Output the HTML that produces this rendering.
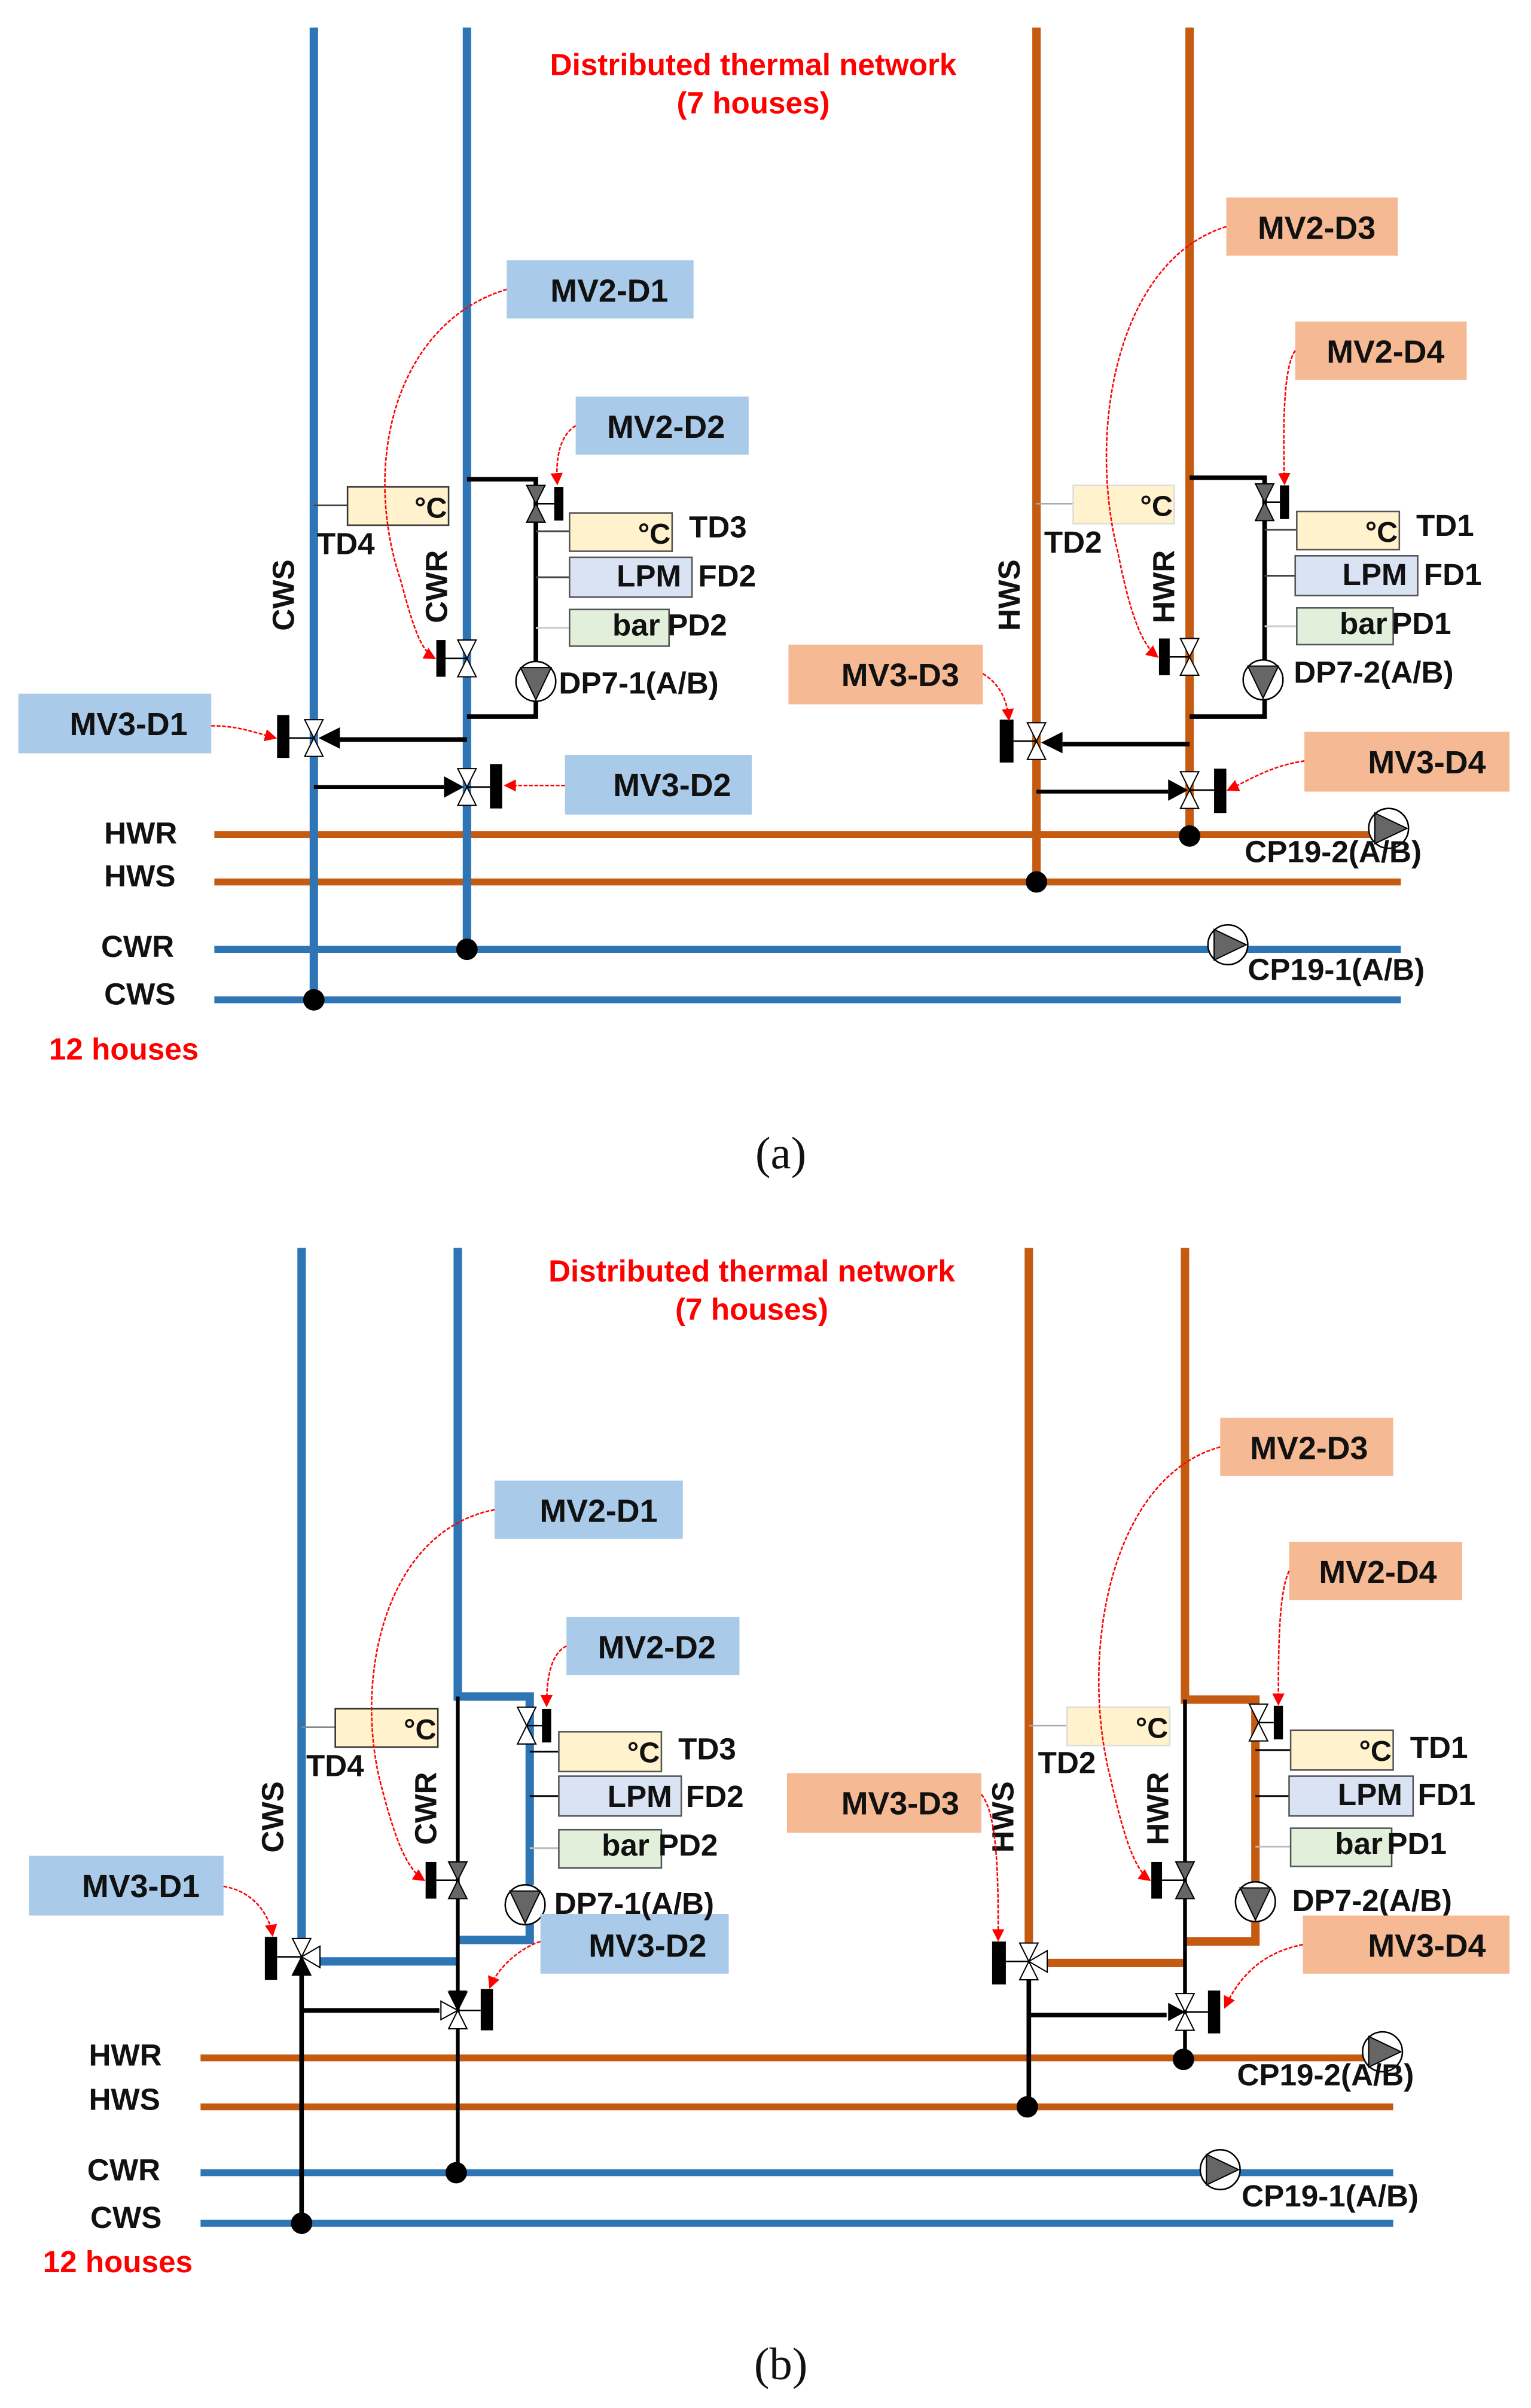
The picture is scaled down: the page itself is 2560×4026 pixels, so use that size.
<!DOCTYPE html>
<html><head><meta charset="utf-8"><style>
html,body{margin:0;padding:0;background:#fff}
svg{display:block}
text{font-family:"Liberation Sans",sans-serif;font-weight:bold;fill:#111}
</style></head><body>
<svg width="2560" height="4026" viewBox="0 0 1000 1572.66" preserveAspectRatio="none" xmlns="http://www.w3.org/2000/svg">
<defs>
<g id="vv"><polygon points="-6,-12 6,-12 0,0" fill="#fff" stroke="#000" stroke-width="0.8"/><polygon points="-6,12 6,12 0,0" fill="#fff" stroke="#000" stroke-width="0.8"/></g>
<g id="vvg"><polygon points="-6,-12 6,-12 0,0" fill="#666" stroke="#000" stroke-width="0.8"/><polygon points="-6,12 6,12 0,0" fill="#666" stroke="#000" stroke-width="0.8"/></g>
<g id="pump"><circle r="13" fill="#fff" stroke="#000" stroke-width="1"/><polygon points="-10,-9 10,-9 0,12" fill="#666" stroke="#000" stroke-width="0.8"/></g>
<g id="hpump"><circle r="13" fill="#fff" stroke="#000" stroke-width="1"/><polygon points="-9,-10 -9,10 12,0" fill="#666" stroke="#000" stroke-width="0.8"/></g>
<marker id="ar" markerWidth="8" markerHeight="8" refX="7" refY="4" orient="auto" markerUnits="userSpaceOnUse"><polygon points="0,0 8,4 0,8" fill="#f00"/></marker>
</defs>

<!-- ===================== (a) ===================== -->
<text x="492" y="49" text-anchor="middle" font-size="20" style="fill:#f00">Distributed thermal network</text>
<text x="492" y="74" text-anchor="middle" font-size="20" style="fill:#f00">(7 houses)</text>

<g stroke-width="4.5" fill="none">
<line x1="140" y1="545" x2="915" y2="545" stroke="#c55a11"/>
<line x1="140" y1="576" x2="915" y2="576" stroke="#c55a11"/>
<line x1="140" y1="620" x2="915" y2="620" stroke="#2e75b6"/>
<line x1="140" y1="653" x2="915" y2="653" stroke="#2e75b6"/>
<line x1="205" y1="18" x2="205" y2="653" stroke="#2e75b6" stroke-width="5.5"/>
<line x1="305" y1="18" x2="305" y2="620" stroke="#2e75b6" stroke-width="5.5"/>
<line x1="677" y1="18" x2="677" y2="576" stroke="#c55a11" stroke-width="5.5"/>
<line x1="777" y1="18" x2="777" y2="546" stroke="#c55a11" stroke-width="5.5"/>
</g>
<g fill="#000"><circle cx="205" cy="653" r="7"/><circle cx="305" cy="620" r="7"/><circle cx="677" cy="576" r="7"/><circle cx="777" cy="546" r="7"/></g>
<g font-size="20"><text x="68" y="551">HWR</text><text x="68" y="579">HWS</text><text x="66" y="625">CWR</text><text x="68" y="656">CWS</text></g>
<text x="32" y="692" font-size="20" style="fill:#f00">12 houses</text>

<!-- left module (a) -->
<polyline points="305,313 350,313 350,468 305,468" fill="none" stroke="#000" stroke-width="3"/>
<line x1="205" y1="330" x2="227" y2="330" stroke="#444" stroke-width="1"/>
<rect x="227" y="318" width="66" height="25" fill="#fff2cc" stroke="#333" stroke-width="1"/><text x="292" y="338" font-size="19" text-anchor="end">°C</text>
<text x="207" y="362" font-size="20">TD4</text>
<g stroke-width="1.2"><line x1="350" y1="347" x2="372" y2="347" stroke="#444"/><line x1="350" y1="377" x2="372" y2="377" stroke="#444"/><line x1="350" y1="410" x2="372" y2="410" stroke="#ccc"/></g>
<rect x="372" y="335" width="67" height="25" fill="#fff2cc" stroke="#555" stroke-width="1"/><text x="438" y="355" font-size="19" text-anchor="end">°C</text><text x="450" y="351" font-size="20">TD3</text>
<rect x="372" y="364" width="80" height="26" fill="#dae3f3" stroke="#555" stroke-width="1"/><text x="445" y="383" font-size="20" text-anchor="end">LPM</text><text x="456" y="383" font-size="20">FD2</text>
<rect x="372" y="398" width="65" height="24" fill="#e2efda" stroke="#555" stroke-width="1"/><text x="400" y="415" font-size="20">bar</text><text x="436" y="415" font-size="20">PD2</text>
<use href="#pump" x="350" y="445"/><text x="365" y="453" font-size="20">DP7-1(A/B)</text>
<use href="#vvg" x="350" y="329"/><line x1="350" y1="329" x2="362" y2="329" stroke="#000"/><rect x="362" y="318" width="6" height="22" fill="#000"/>
<text transform="translate(192,412) rotate(-90)" font-size="20">CWS</text>
<text transform="translate(292,407) rotate(-90)" font-size="20">CWR</text>
<use href="#vv" x="305" y="430"/><line x1="291" y1="430" x2="305" y2="430" stroke="#000"/><rect x="285" y="418" width="6" height="24" fill="#000"/>
<line x1="305" y1="483" x2="222" y2="483" stroke="#000" stroke-width="3"/><polygon points="208,482 222,475 222,489" fill="#000"/>
<use href="#vv" x="205" y="482"/><line x1="188" y1="482" x2="205" y2="482" stroke="#000"/><rect x="181" y="467" width="8" height="28" fill="#000"/>
<line x1="205" y1="514" x2="290" y2="514" stroke="#000" stroke-width="2.5"/><polygon points="303,514 290,507 290,521" fill="#000"/>
<use href="#vv" x="305" y="514"/><line x1="305" y1="514" x2="320" y2="514" stroke="#000"/><rect x="320" y="499" width="8" height="29" fill="#000"/>
<g fill="#a9cbe9"><rect x="331" y="170" width="122" height="38"/><rect x="376" y="259" width="113" height="38"/><rect x="12" y="453" width="126" height="39"/><rect x="369" y="493" width="122" height="39"/></g>
<g font-size="21" text-anchor="middle"><text x="398" y="197">MV2-D1</text><text x="435" y="286">MV2-D2</text><text x="84" y="480">MV3-D1</text><text x="439" y="520">MV3-D2</text></g>
<g fill="none" stroke="#f00" stroke-width="1" stroke-dasharray="2.5,1" marker-end="url(#ar)">
<path d="M331,189 C260,210 235,300 262,380 C270,410 275,425 284,430"/>
<path d="M376,278 C365,285 363,300 364,316"/>
<path d="M138,474 C155,474 165,478 180,482"/>
<path d="M369,513 L330,513"/>
</g>

<!-- right module (a) -->
<polyline points="777,312 826,312 826,468 777,468" fill="none" stroke="#000" stroke-width="3"/>
<line x1="677" y1="329" x2="701" y2="329" stroke="#aaa" stroke-width="1"/>
<rect x="701" y="317" width="66" height="25" fill="#fff2cc" stroke="#ddd" stroke-width="1"/><text x="766" y="337" font-size="19" text-anchor="end">°C</text>
<text x="682" y="361" font-size="20">TD2</text>
<g stroke-width="1.2"><line x1="826" y1="346" x2="847" y2="346" stroke="#444"/><line x1="826" y1="376" x2="846" y2="376" stroke="#444"/><line x1="826" y1="409" x2="847" y2="409" stroke="#ccc"/></g>
<rect x="847" y="334" width="67" height="25" fill="#fff2cc" stroke="#555" stroke-width="1"/><text x="913" y="354" font-size="19" text-anchor="end">°C</text><text x="925" y="350" font-size="20">TD1</text>
<rect x="846" y="363" width="80" height="26" fill="#dae3f3" stroke="#555" stroke-width="1"/><text x="919" y="382" font-size="20" text-anchor="end">LPM</text><text x="930" y="382" font-size="20">FD1</text>
<rect x="847" y="397" width="63" height="24" fill="#e2efda" stroke="#555" stroke-width="1"/><text x="875" y="414" font-size="20">bar</text><text x="909" y="414" font-size="20">PD1</text>
<use href="#pump" x="825" y="444"/><text x="845" y="446" font-size="20">DP7-2(A/B)</text>
<use href="#vvg" x="826" y="328"/><line x1="826" y1="328" x2="836" y2="328" stroke="#000"/><rect x="836" y="317" width="6" height="22" fill="#000"/>
<text transform="translate(666,412) rotate(-90)" font-size="20">HWS</text>
<text transform="translate(767,407) rotate(-90)" font-size="20">HWR</text>
<use href="#vv" x="777" y="429"/><line x1="764" y1="429" x2="777" y2="429" stroke="#000"/><rect x="757" y="417" width="7" height="24" fill="#000"/>
<line x1="777" y1="486" x2="694" y2="486" stroke="#000" stroke-width="3"/><polygon points="680,485 694,478 694,492" fill="#000"/>
<use href="#vv" x="677" y="484"/><line x1="662" y1="484" x2="677" y2="484" stroke="#000"/><rect x="653" y="470" width="9" height="28" fill="#000"/>
<line x1="677" y1="517" x2="763" y2="517" stroke="#000" stroke-width="2.5"/><polygon points="776,516 763,509 763,523" fill="#000"/>
<use href="#vv" x="777" y="516"/><line x1="777" y1="516" x2="793" y2="516" stroke="#000"/><rect x="793" y="502" width="8" height="29" fill="#000"/>
<use href="#hpump" x="907" y="541"/><text x="813" y="563" font-size="20">CP19-2(A/B)</text>
<use href="#hpump" x="802" y="617"/><text x="815" y="640" font-size="20">CP19-1(A/B)</text>
<g fill="#f5b993"><rect x="801" y="129" width="112" height="38"/><rect x="846" y="210" width="112" height="38"/><rect x="515" y="421" width="127" height="39"/><rect x="852" y="478" width="134" height="39"/></g>
<g font-size="21" text-anchor="middle"><text x="860" y="156">MV2-D3</text><text x="905" y="237">MV2-D4</text><text x="588" y="448">MV3-D3</text><text x="932" y="505">MV3-D4</text></g>
<g fill="none" stroke="#f00" stroke-width="1" stroke-dasharray="2.5,1" marker-end="url(#ar)">
<path d="M801,148 C730,170 710,280 730,360 C738,400 745,420 756,429"/>
<path d="M846,229 C838,240 838,280 839,316"/>
<path d="M642,440 C655,448 658,460 659,470"/>
<path d="M852,497 C830,500 815,510 802,516"/>
</g>
<text x="510" y="763" font-size="30" text-anchor="middle" style="font-family:'Liberation Serif',serif;font-weight:normal">(a)</text>

<!-- ===================== (b) ===================== -->
<text x="491" y="837" text-anchor="middle" font-size="20" style="fill:#f00">Distributed thermal network</text>
<text x="491" y="862" text-anchor="middle" font-size="20" style="fill:#f00">(7 houses)</text>
<g stroke-width="4.5" fill="none">
<line x1="131" y1="1344" x2="910" y2="1344" stroke="#c55a11"/>
<line x1="131" y1="1376" x2="910" y2="1376" stroke="#c55a11"/>
<line x1="131" y1="1419" x2="910" y2="1419" stroke="#2e75b6"/>
<line x1="131" y1="1452" x2="910" y2="1452" stroke="#2e75b6"/>
</g>
<line x1="197" y1="815" x2="197" y2="1266" stroke="#2e75b6" stroke-width="5.5"/>
<line x1="197" y1="1290" x2="197" y2="1452" stroke="#000" stroke-width="3"/>
<polyline points="299,815 299,1108 346,1108 346,1231" fill="none" stroke="#2e75b6" stroke-width="5.5"/>
<polyline points="346,1256 346,1267 299,1267" fill="none" stroke="#2e75b6" stroke-width="5.5"/>
<line x1="208" y1="1281" x2="299" y2="1281" stroke="#2e75b6" stroke-width="5.5"/>
<line x1="299" y1="1108" x2="299" y2="1419" stroke="#000" stroke-width="2.5"/>
<line x1="197" y1="1313" x2="287" y2="1313" stroke="#000" stroke-width="3"/>
<line x1="672" y1="815" x2="672" y2="1270" stroke="#c55a11" stroke-width="5.5"/>
<line x1="672" y1="1292" x2="672" y2="1376" stroke="#000" stroke-width="3"/>
<polyline points="774,815 774,1110 820,1110 820,1229" fill="none" stroke="#c55a11" stroke-width="5.5"/>
<polyline points="820,1255 820,1268 774,1268" fill="none" stroke="#c55a11" stroke-width="5.5"/>
<line x1="682" y1="1282" x2="774" y2="1282" stroke="#c55a11" stroke-width="5.5"/>
<line x1="774" y1="1110" x2="774" y2="1344" stroke="#000" stroke-width="2.5"/>
<line x1="672" y1="1316" x2="762" y2="1316" stroke="#000" stroke-width="3"/>
<g fill="#000"><circle cx="197" cy="1452" r="7"/><circle cx="298" cy="1419" r="7"/><circle cx="671" cy="1376" r="7"/><circle cx="773" cy="1345" r="7"/></g>
<g font-size="20"><text x="58" y="1349">HWR</text><text x="58" y="1378">HWS</text><text x="57" y="1424">CWR</text><text x="59" y="1455">CWS</text></g>
<text x="28" y="1484" font-size="20" style="fill:#f00">12 houses</text>

<line x1="197" y1="1128" x2="219" y2="1128" stroke="#888" stroke-width="1"/>
<rect x="219" y="1116" width="67" height="25" fill="#fff2cc" stroke="#333" stroke-width="1"/><text x="285" y="1136" font-size="19" text-anchor="end">°C</text>
<text x="200" y="1160" font-size="20">TD4</text>
<g stroke-width="1.2"><line x1="346" y1="1144" x2="365" y2="1144" stroke="#000"/><line x1="346" y1="1173" x2="365" y2="1173" stroke="#000"/><line x1="346" y1="1207" x2="365" y2="1207" stroke="#bbb"/></g>
<rect x="365" y="1131" width="67" height="26" fill="#fff2cc" stroke="#555" stroke-width="1"/><text x="431" y="1151" font-size="19" text-anchor="end">°C</text><text x="443" y="1149" font-size="20">TD3</text>
<rect x="365" y="1160" width="80" height="26" fill="#dae3f3" stroke="#555" stroke-width="1"/><text x="439" y="1180" font-size="20" text-anchor="end">LPM</text><text x="448" y="1180" font-size="20">FD2</text>
<rect x="365" y="1195" width="67" height="25" fill="#e2efda" stroke="#555" stroke-width="1"/><text x="393" y="1212" font-size="20">bar</text><text x="430" y="1212" font-size="20">PD2</text>
<use href="#pump" x="343" y="1244"/>
<use href="#vv" x="344" y="1127"/><line x1="344" y1="1127" x2="354" y2="1127" stroke="#000"/><rect x="354" y="1116" width="6" height="22" fill="#000"/>
<text transform="translate(185,1210) rotate(-90)" font-size="20">CWS</text>
<text transform="translate(285,1205) rotate(-90)" font-size="20">CWR</text>
<use href="#vvg" x="299" y="1228"/><line x1="285" y1="1228" x2="299" y2="1228" stroke="#000"/><rect x="278" y="1216" width="7" height="24" fill="#000"/>
<use href="#vv" x="197" y="1278"/><polygon points="197,1278 209,1271 209,1285" fill="#fff" stroke="#000" stroke-width="0.8"/><polygon points="197,1278 191,1290 203,1290" fill="#000"/>
<line x1="181" y1="1278" x2="197" y2="1278" stroke="#000"/><rect x="173" y="1265" width="8" height="28" fill="#000"/>
<use href="#vv" x="299" y="1313"/><polygon points="299,1313 293,1300 305,1300" fill="#000"/><polygon points="299,1313 288,1307 288,1319" fill="#fff" stroke="#000" stroke-width="0.8"/>
<line x1="299" y1="1313" x2="314" y2="1313" stroke="#000"/><rect x="314" y="1299" width="8" height="27" fill="#000"/>
<g fill="#a9cbe9"><rect x="323" y="967" width="123" height="38"/><rect x="370" y="1056" width="113" height="38"/><rect x="19" y="1212" width="127" height="39"/><rect x="353" y="1250" width="123" height="39"/></g>
<g font-size="21" text-anchor="middle"><text x="391" y="994">MV2-D1</text><text x="429" y="1083">MV2-D2</text><text x="92" y="1239">MV3-D1</text><text x="423" y="1278">MV3-D2</text></g>
<text x="362" y="1250" font-size="20">DP7-1(A/B)</text>
<g fill="none" stroke="#f00" stroke-width="1" stroke-dasharray="2.5,1" marker-end="url(#ar)">
<path d="M323,986 C250,1000 230,1100 250,1170 C258,1200 265,1220 277,1228"/>
<path d="M370,1075 C360,1080 357,1095 357,1114"/>
<path d="M146,1232 C165,1235 176,1250 178,1264"/>
<path d="M353,1268 C340,1272 325,1285 320,1298"/>
</g>

<line x1="672" y1="1127" x2="697" y2="1127" stroke="#aaa" stroke-width="1"/>
<rect x="697" y="1115" width="67" height="25" fill="#fff2cc" stroke="#ddd" stroke-width="1"/><text x="763" y="1135" font-size="19" text-anchor="end">°C</text>
<text x="678" y="1158" font-size="20">TD2</text>
<g stroke-width="1.2"><line x1="820" y1="1143" x2="843" y2="1143" stroke="#000"/><line x1="820" y1="1173" x2="842" y2="1173" stroke="#000"/><line x1="820" y1="1206" x2="843" y2="1206" stroke="#bbb"/></g>
<rect x="843" y="1130" width="67" height="26" fill="#fff2cc" stroke="#555" stroke-width="1"/><text x="909" y="1150" font-size="19" text-anchor="end">°C</text><text x="921" y="1148" font-size="20">TD1</text>
<rect x="842" y="1160" width="81" height="26" fill="#dae3f3" stroke="#555" stroke-width="1"/><text x="916" y="1179" font-size="20" text-anchor="end">LPM</text><text x="926" y="1179" font-size="20">FD1</text>
<rect x="843" y="1194" width="66" height="25" fill="#e2efda" stroke="#555" stroke-width="1"/><text x="872" y="1211" font-size="20">bar</text><text x="906" y="1211" font-size="20">PD1</text>
<use href="#pump" x="820" y="1242"/><text x="844" y="1248" font-size="20">DP7-2(A/B)</text>
<use href="#vv" x="822" y="1125"/><line x1="822" y1="1125" x2="832" y2="1125" stroke="#000"/><rect x="832" y="1114" width="6" height="22" fill="#000"/>
<text transform="translate(662,1210) rotate(-90)" font-size="20">HWS</text>
<text transform="translate(763,1205) rotate(-90)" font-size="20">HWR</text>
<use href="#vvg" x="774" y="1228"/><line x1="759" y1="1228" x2="774" y2="1228" stroke="#000"/><rect x="752" y="1216" width="7" height="24" fill="#000"/>
<use href="#vv" x="672" y="1281"/><polygon points="672,1281 684,1274 684,1288" fill="#fff" stroke="#000" stroke-width="0.8"/>
<line x1="657" y1="1281" x2="672" y2="1281" stroke="#000"/><rect x="648" y="1268" width="9" height="28" fill="#000"/>
<use href="#vv" x="774" y="1314"/><polygon points="774,1314 763,1308 763,1320" fill="#000"/>
<line x1="774" y1="1314" x2="789" y2="1314" stroke="#000"/><rect x="789" y="1300" width="8" height="28" fill="#000"/>
<use href="#hpump" x="903" y="1340"/><text x="808" y="1362" font-size="20">CP19-2(A/B)</text>
<use href="#hpump" x="797" y="1417"/><text x="811" y="1441" font-size="20">CP19-1(A/B)</text>
<g fill="#f5b993"><rect x="797" y="926" width="113" height="38"/><rect x="842" y="1007" width="113" height="38"/><rect x="514" y="1158" width="127" height="39"/><rect x="851" y="1251" width="135" height="38"/></g>
<g font-size="21" text-anchor="middle"><text x="855" y="953">MV2-D3</text><text x="900" y="1034">MV2-D4</text><text x="588" y="1185">MV3-D3</text><text x="932" y="1278">MV3-D4</text></g>
<g fill="none" stroke="#f00" stroke-width="1" stroke-dasharray="2.5,1" marker-end="url(#ar)">
<path d="M797,945 C725,965 705,1080 725,1160 C733,1195 740,1220 751,1228"/>
<path d="M842,1026 C835,1040 835,1080 835,1113"/>
<path d="M641,1172 C652,1185 652,1230 652,1267"/>
<path d="M851,1270 C825,1275 810,1290 800,1311"/>
</g>
<text x="510" y="1554" font-size="30" text-anchor="middle" style="font-family:'Liberation Serif',serif;font-weight:normal">(b)</text>
</svg>
</body></html>
